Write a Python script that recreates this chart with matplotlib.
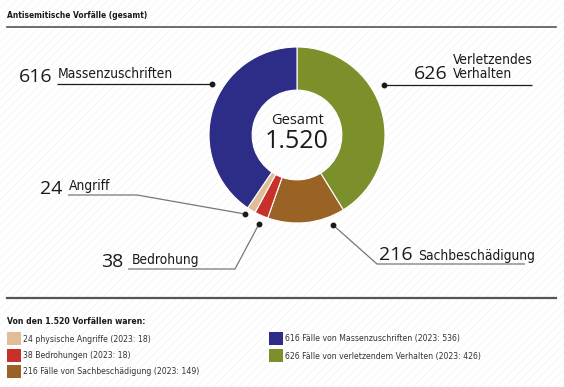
import matplotlib

matplotlib.use("Agg")
import matplotlib.pyplot as plt
from matplotlib import font_manager
from matplotlib.patches import Rectangle

W, H = 564, 387

# data
categories = ["Verletzendes\nVerhalten", "Sachbeschädigung", "Bedrohung", "Angriff", "Massenzuschriften"]
values = [626, 216, 38, 24, 616]
colors = ["#7b8f2b", "#9b6226", "#c8302a", "#e0bd98", "#2d2c86"]
total_label = "1.520"
legend_left = ["24 physische Angriffe (2023: 18)", "38 Bedrohungen (2023: 18)",
               "216 Fälle von Sachbeschädigung (2023: 149)"]
legend_left_colors = ["#e0bd98", "#c8302a", "#9b6226"]
legend_right = ["616 Fälle von Massenzuschriften (2023: 536)",
                "626 Fälle von verletzendem Verhalten (2023: 426)"]
legend_right_colors = ["#2d2c86", "#7b8f2b"]

names = {f.name for f in font_manager.fontManager.ttflist}
if "Liberation Sans Narrow" in names:
    NARROW = dict(family="Liberation Sans Narrow")
else:
    NARROW = dict(family="DejaVu Sans", stretch="condensed")
NUMF = ["Open Sans", "DejaVu Sans"]
INK = "#1a1a1a"

fig = plt.figure(figsize=(W / 100, H / 100), dpi=100)
ax = fig.add_axes([0, 0, 1, 1])
ax.set_xlim(0, W)
ax.set_ylim(0, H)
ax.set_aspect("equal")
ax.axis("off")


def Y(y):
    return H - y


# faint diagonal background texture
plt.rcParams["hatch.linewidth"] = 0.6
ax.add_patch(Rectangle((0, 0), W, H, facecolor="white", edgecolor="#f4f4f4",
                       hatch="////", linewidth=0, zorder=0))

# header
ax.text(7, Y(15), "Antisemitische Vorfälle (gesamt)", fontsize=6.0, fontweight="bold",
        color=INK, va="center", **NARROW)
ax.plot([7, 556], [Y(27), Y(27)], color="#555555", lw=1.2)

# donut
cx, cy, r = 297, 135, 88
wedges, _ = ax.pie(values, colors=colors, startangle=90, counterclock=False,
                   center=(cx, Y(cy)), radius=r, frame=True,
                   wedgeprops=dict(width=r * 0.49, edgecolor="white", linewidth=0.8))
ax.set_xlim(0, W)
ax.set_ylim(0, H)
ax.axis("off")
ax.text(cx, Y(121), "Gesamt", ha="center", va="center", fontsize=10.5, family=NUMF, color=INK)
ax.text(cx, Y(141), total_label, ha="center", va="center", fontsize=18, family=NUMF, color=INK)

# callouts: (value, label, number x, number y, label x, label y, line pts, line colour)
callouts = [
    (values[4], "Massenzuschriften", 52, 77, 58, 74, [(57, 84), (212, 84)], INK),
    (values[0], "Verletzendes\nVerhalten", 448, 74, 453, 67, [(532, 85), (384, 85)], INK),
    (values[3], "Angriff", 62, 189, 69, 186, [(68, 195), (137, 195), (245, 214)], "#777777"),
    (values[2], "Bedrohung", 123, 262, 132, 260, [(128, 269), (235, 269), (259, 224)], "#777777"),
    (values[1], "Sachbeschädigung", 413, 255, 418, 256, [(525, 264), (377, 264), (333, 225)], "#777777"),
]
for val, lab, nx, ny, lx, ly, pts, lc in callouts:
    ax.text(nx, Y(ny), str(val), ha="right", va="center", fontsize=14, family=NUMF, color=INK)
    ax.text(lx, Y(ly), lab, ha="left", va="center", fontsize=9.9, color=INK,
            linespacing=1.0, **NARROW)
    xs = [p[0] for p in pts]
    ys = [Y(p[1]) for p in pts]
    ax.plot(xs, ys, color=lc, lw=0.9, solid_capstyle="butt")
    ax.plot(xs[-1], ys[-1], "o", color=INK, markersize=3.2)

# footer legend
ax.plot([7, 556], [Y(298), Y(298)], color="#555555", lw=1.6)
ax.text(7, Y(322), "Von den 1.520 Vorfällen waren:", fontsize=6.2, fontweight="bold",
        color=INK, va="center", **NARROW)
rows = [339, 356, 372]
for i, (txt, col) in enumerate(zip(legend_left, legend_left_colors)):
    ax.add_patch(Rectangle((7, Y(rows[i]) - 6), 14, 13, facecolor=col, edgecolor="none"))
    ax.text(23, Y(rows[i]), txt, fontsize=6.2, color="#333333", va="center", **NARROW)
for i, (txt, col) in enumerate(zip(legend_right, legend_right_colors)):
    ax.add_patch(Rectangle((269, Y(rows[i]) - 6), 14, 13, facecolor=col, edgecolor="none"))
    ax.text(285, Y(rows[i]), txt, fontsize=6.2, color="#333333", va="center", **NARROW)

fig.savefig("out.png", dpi=100)
